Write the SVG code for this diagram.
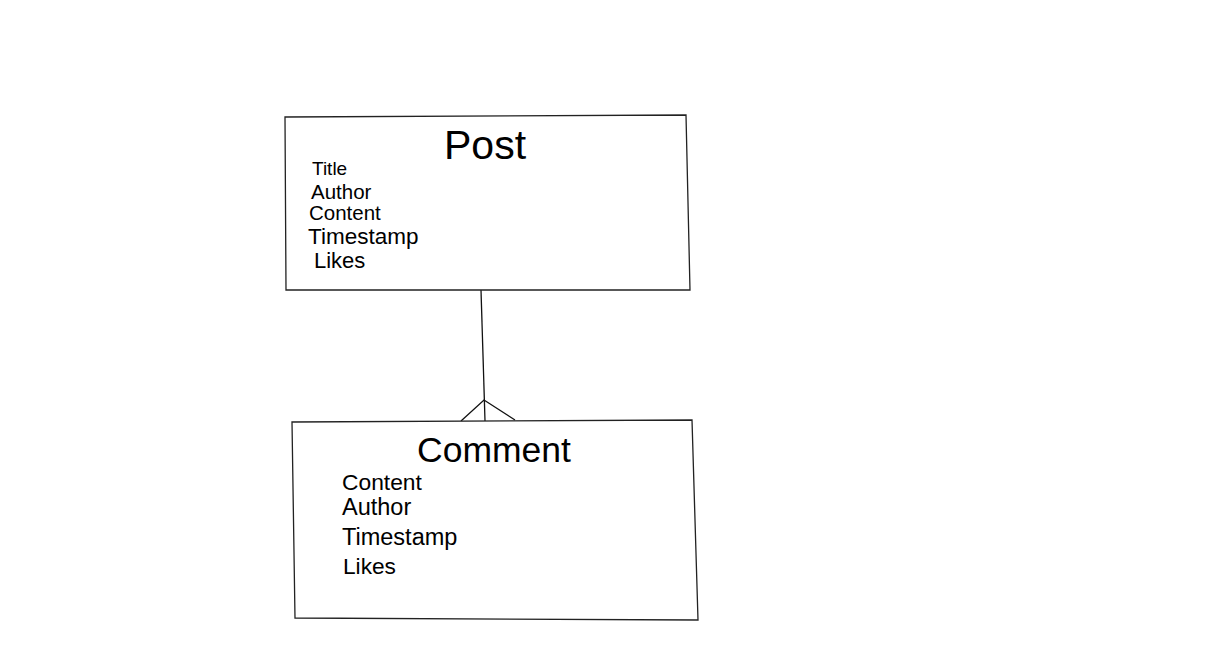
<svg xmlns="http://www.w3.org/2000/svg" width="1215" height="651" viewBox="0 0 1215 651">
<style>
.box{fill:#fff;stroke:#222;stroke-width:1.3}
.t{font-family:"Liberation Sans",Arial,sans-serif;fill:#000}
.conn{stroke:#111;stroke-width:1.3;fill:none}
</style>
<rect width="1215" height="651" fill="#fff"/>
<g id="connectors">
<line class="conn" x1="481" y1="290" x2="485" y2="421"/>
<polyline class="conn" points="461,421 484,400 515,420"/>
</g>
<g id="post">
<polygon class="box" points="285,117 686,115 690,290 286,290"/>
<text class="t" x="444" y="159" font-size="41">Post</text>
<text class="t" x="312" y="175" font-size="19">Title</text>
<text class="t" x="311" y="199" font-size="20.5">Author</text>
<text class="t" x="309" y="220" font-size="20.5">Content</text>
<text class="t" x="308" y="244" font-size="22.5">Timestamp</text>
<text class="t" x="314" y="268" font-size="22">Likes</text>
</g>
<g id="comment">
<polygon class="box" points="292,422 692,420 698,620 295,618"/>
<text class="t" x="417" y="462" font-size="35.5">Comment</text>
<text class="t" x="342" y="490" font-size="22.8">Content</text>
<text class="t" x="342" y="515" font-size="23.5">Author</text>
<text class="t" x="342" y="545" font-size="23.5">Timestamp</text>
<text class="t" x="343" y="574" font-size="22.7">Likes</text>
</g>
</svg>
